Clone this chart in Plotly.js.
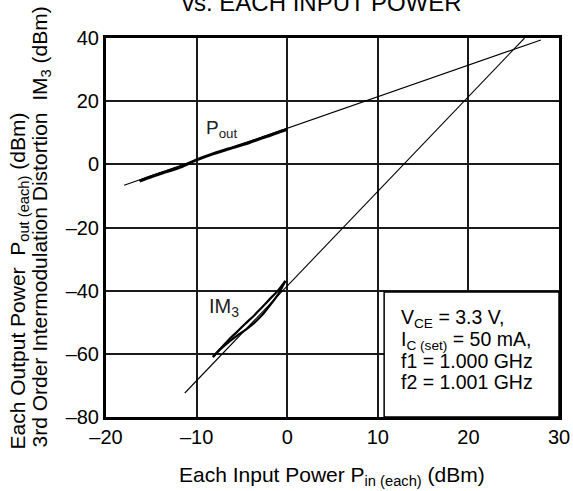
<!DOCTYPE html>
<html>
<head>
<meta charset="utf-8">
<script src="https://cdn.plot.ly/plotly-3.0.1.min.js"></script>
<style>html,body{margin:0;padding:0;background:#fff;}#chart{width:573px;height:491px;}</style>
</head>
<body>
<div id="chart"></div>
<script>
// Fitted straight lines (thin)
const poutLineX = [-18.0, 28.0];
const poutLineY = [-6.6, 39.4];
const im3LineX = [-11.3, 26.2];
const im3LineY = [-72.4, 40.0];

// Measured Pout (thick)
const poutX = [-16.3, -14.8, -13.3, -11.8, -10.0, -8.2, -6.0, -4.1, -2.3, -0.3, 0];
const poutY = [-5.3, -3.7, -2.3, -0.9, 1.4, 3.3, 5.3, 7.0, 8.8, 10.8, 11.0];

// Measured IM3 (two thick curves)
const im3aX = [-8.2, -7.4, -6.5, -5.6, -4.6, -3.7, -2.8, -1.9, -1.0, -0.2];
const im3aY = [-61.0, -58.6, -56.4, -54.4, -52.4, -50.4, -47.8, -44.6, -41.2, -36.9];
const im3bX = [-8.2, -7.4, -6.5, -5.6, -4.6, -3.7, -2.8, -1.9, -1.0, -0.2];
const im3bY = [-61.0, -58.5, -55.7, -53.2, -50.4, -48.0, -45.3, -42.6, -39.9, -36.9];

const xTicks = [-20, -10, 0, 10, 20, 30];
const yTicks = [-80, -60, -40, -20, 0, 20, 40];

const FONT = 'Liberation Sans, Arial, Helvetica, sans-serif';

// plot-area pixel geometry helpers (for placing outside texts)
const L = 106, R = 14, T = 38, B = 74, W = 573, H = 491;
const pw = W - L - R, ph = H - T - B;
const px = v => (v - L) / pw;
const py = v => (H - B - v) / ph;

const tickText = arr => arr.map(v => v < 0 ? '\u2013' + Math.abs(v) : String(v));
const xr = [xTicks[0], xTicks[xTicks.length - 1]];
const yr = [yTicks[0], yTicks[yTicks.length - 1]];

const traces = [
  {x: poutLineX, y: poutLineY, mode: 'lines', line: {color: '#000', width: 1.1}},
  {x: im3LineX, y: im3LineY, mode: 'lines', line: {color: '#000', width: 1.1}},
  {x: poutX, y: poutY, mode: 'lines', line: {color: '#000', width: 3, shape: 'spline'}},
  {x: im3aX, y: im3aY, mode: 'lines', line: {color: '#000', width: 2.2, shape: 'spline'}},
  {x: im3bX, y: im3bY, mode: 'lines', line: {color: '#000', width: 2.2, shape: 'spline'}}
];

const layout = {
  width: W, height: H,
  margin: {l: L, r: R, t: T, b: B},
  paper_bgcolor: '#ffffff', plot_bgcolor: '#ffffff',
  showlegend: false,
  font: {family: FONT, size: 20, color: '#000000'},
  xaxis: {
    range: xr, tickmode: 'array', tickvals: xTicks, ticktext: tickText(xTicks),
    showgrid: true, gridcolor: '#1a1a1a', gridwidth: 1.8, zeroline: false,
    showline: true, linecolor: '#000000', linewidth: 3, mirror: true,
    ticks: '', tickfont: {size: 20, family: FONT, color: '#000000'}
  },
  yaxis: {
    range: yr, tickmode: 'array', tickvals: yTicks, ticktext: tickText(yTicks),
    showgrid: true, gridcolor: '#1a1a1a', gridwidth: 1.8, zeroline: false,
    showline: true, linecolor: '#000000', linewidth: 3, mirror: true,
    ticks: '', tickfont: {size: 20, family: FONT, color: '#000000'}
  },
  shapes: [
    {type: 'rect', xref: 'x', yref: 'y', x0: 10.7, x1: 30, y0: -80, y1: -40.4,
     line: {color: '#000000', width: 1.5}, fillcolor: '#ffffff', layer: 'above'}
  ],
  annotations: [
    {text: 'vs. EACH INPUT POWER', xref: 'paper', yref: 'paper', x: px(322), y: py(2.5),
     xanchor: 'center', yanchor: 'middle', showarrow: false, font: {size: 24, family: FONT}},
    {text: 'Each Input Power P<sub>in (each)</sub> (dBm)', xref: 'paper', yref: 'paper', x: px(332), y: py(476),
     xanchor: 'center', yanchor: 'middle', showarrow: false, font: {size: 21, family: FONT}},
    {text: 'Each Output Power  P<sub>out (each)</sub> (dBm)',
     xref: 'paper', yref: 'paper', x: px(18), y: py(452), textangle: -90,
     xanchor: 'center', yanchor: 'bottom', showarrow: false, font: {size: 21, family: FONT}},
    {text: '3rd Order Intermodulation Distortion  IM<sub>3</sub> (dBm)',
     xref: 'paper', yref: 'paper', x: px(40), y: py(450), textangle: -90,
     xanchor: 'center', yanchor: 'bottom', showarrow: false, font: {size: 21, family: FONT}},
    {text: 'P<sub>out</sub>', xref: 'x', yref: 'y', x: -7.2, y: 11.2, showarrow: false, font: {size: 19, family: FONT, color: '#222'}},
    {text: 'IM<sub>3</sub>', xref: 'x', yref: 'y', x: -7.0, y: -45.2, showarrow: false, font: {size: 20, family: FONT, color: '#222'}},
    {text: 'V<sub>CE</sub> = 3.3 V,', xref: 'paper', yref: 'paper', x: px(399), y: py(318), xanchor: 'left', yanchor: 'middle', showarrow: false, font: {size: 19.5, family: FONT}},
    {text: 'I<sub>C (set)</sub> = 50 mA,', xref: 'paper', yref: 'paper', x: px(399), y: py(340), xanchor: 'left', yanchor: 'middle', showarrow: false, font: {size: 19.5, family: FONT}},
    {text: 'f1 = 1.000 GHz', xref: 'paper', yref: 'paper', x: px(399), y: py(361), xanchor: 'left', yanchor: 'middle', showarrow: false, font: {size: 19.5, family: FONT}},
    {text: 'f2 = 1.001 GHz', xref: 'paper', yref: 'paper', x: px(399), y: py(382), xanchor: 'left', yanchor: 'middle', showarrow: false, font: {size: 19.5, family: FONT}}
  ]
};

Plotly.newPlot('chart', traces, layout, {displayModeBar: false});
</script>
</body>
</html>
